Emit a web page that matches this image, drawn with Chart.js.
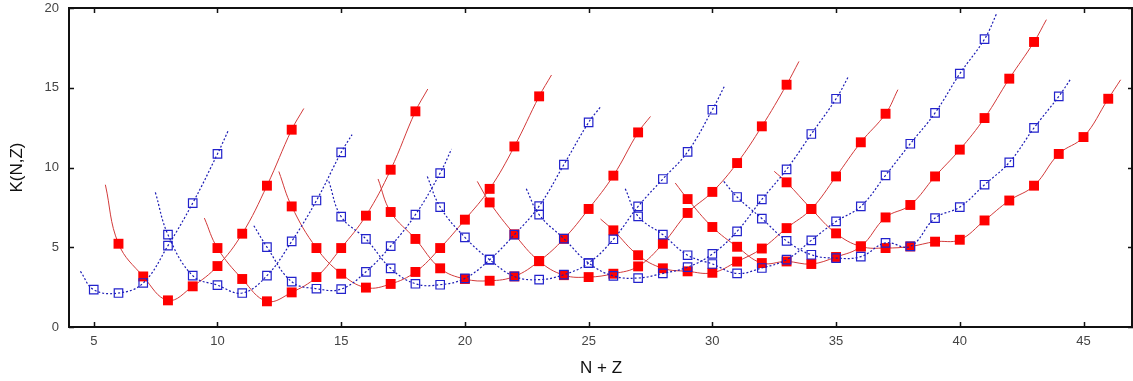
<!DOCTYPE html>
<html>
<head>
<meta charset="utf-8">
<script src="https://cdn.jsdelivr.net/npm/chart.js@4.4.1/dist/chart.umd.min.js"></script>
<style>
  html, body { margin: 0; padding: 0; background: #fff; }
  #wrap { width: 1133px; height: 381px; }
</style>
</head>
<body>
<div id="wrap"><canvas id="chart" width="1133" height="381"></canvas></div>
<script>
// ticks
const xTicks = [5, 10, 15, 20, 25, 30, 35, 40, 45];
const yTicks = [0, 5, 10, 15, 20];

// red series (filled squares, solid curves): first N+Z and K values
const redFirst = [6, 10, 13, 17, 21, 26, 29, 33];
const red1 = [5.22, 3.17, 1.67, 2.55, 3.82, 5.85, 8.86, 12.37];
const red2 = [4.95, 3.01, 1.61, 2.17, 3.13, 4.95, 6.98, 9.86, 13.52];
const red3 = [7.56, 4.95, 3.34, 2.47, 2.7, 3.45, 4.95, 6.73, 8.66, 11.32, 14.46];
const red4 = [7.21, 5.52, 3.68, 3.01, 2.9, 3.17, 4.13, 5.53, 7.4, 9.49, 12.2];
const red5 = [7.81, 5.81, 4.13, 3.25, 3.13, 3.34, 3.8, 5.22, 7.15, 8.47, 10.28, 12.58, 15.19];
const red6 = [6.06, 4.5, 3.68, 3.49, 3.4, 4.1, 4.92, 6.2, 7.4, 9.44, 11.58, 13.37];
const red7 = [8.02, 6.27, 5.03, 4.01, 4.11, 3.95, 4.39, 5.05, 6.87, 7.65, 9.44, 11.12, 13.1, 15.57, 17.87];
const red8 = [9.07, 7.4, 5.87, 5.05, 4.95, 5.05, 5.35, 5.47, 6.68, 7.93, 8.86, 10.85, 11.91, 14.31];
// where each red curve starts and ends: [x0, y0, x1, y1]
const redEnds = [
  [5.47, 8.92, 13.49, 13.7],
  [9.47, 6.83, 18.5, 14.92],
  [12.48, 9.75, 23.5, 15.8],
  [16.49, 9.28, 27.5, 13.2],
  [20.5, 9.13, 33.5, 16.65],
  [25.48, 6.77, 37.5, 14.88],
  [28.5, 9.03, 43.5, 19.27],
  [32.5, 9.76, 46.5, 15.5]
];

// blue series (open squares, dotted curves)
const blueFirst = [5, 8, 12, 15, 19, 23, 27, 31];
const blue1 = [2.34, 2.13, 2.76, 5.1, 7.77, 10.85];
const blue2 = [5.79, 3.22, 2.62, 2.13, 3.22, 5.37, 7.93, 10.95];
const blue3 = [5.01, 2.84, 2.4, 2.38, 3.46, 5.07, 7.04, 9.65];
const blue4 = [6.92, 5.52, 3.68, 2.71, 2.65, 3.05, 4.22, 5.79, 7.58, 10.18, 12.83];
const blue5 = [7.52, 5.62, 4.22, 3.17, 2.97, 3.28, 4.01, 5.5, 7.56, 9.28, 10.98, 13.62];
const blue6 = [7.04, 5.54, 4.01, 3.2, 3.07, 3.36, 3.75, 4.58, 6.0, 8.0, 9.88, 12.1, 14.31];
const blue7 = [6.94, 5.79, 4.5, 3.95, 3.36, 3.7, 4.22, 5.43, 6.62, 7.56, 9.51, 11.49, 13.42, 15.88, 18.05];
const blue8 = [8.15, 6.8, 5.4, 4.53, 4.32, 4.41, 5.27, 5.05, 6.83, 7.52, 8.92, 10.32, 12.48, 14.46];
const blueEnds = [
  [4.46, 3.49, 10.46, 12.4],
  [7.49, 8.44, 15.44, 12.06],
  [11.47, 6.35, 19.46, 11.16],
  [14.5, 9.13, 25.48, 13.8],
  [18.48, 9.44, 30.5, 15.13],
  [22.48, 8.67, 35.52, 15.76],
  [26.48, 8.67, 41.51, 19.72],
  [30.46, 9.13, 44.48, 15.55]
];

const reds = [red1, red2, red3, red4, red5, red6, red7, red8];
const blues = [blue1, blue2, blue3, blue4, blue5, blue6, blue7, blue8];

// armar los puntos de una curva: inicio, valores, final
const buildCurve = (first, vals, ends) => {
  const pts = [{ x: ends[0], y: ends[1] }];
  vals.forEach((v, i) => pts.push({ x: first + i, y: v }));
  pts.push({ x: ends[2], y: ends[3] });
  return pts;
};

const hideEnds = (ctx, r) => {
  const n = ctx.dataset.data.length;
  return (ctx.dataIndex === 0 || ctx.dataIndex === n - 1) ? 0 : r;
};

let datasets = [];
reds.forEach((vals, i) => {
  datasets.push({
    data: buildCurve(redFirst[i], vals, redEnds[i]),
    showLine: true,
    borderColor: '#d23a3a',
    borderWidth: 1,
    tension: 0.4,
    pointStyle: 'rect',
    pointRadius: ctx => hideEnds(ctx, 7),
    pointBackgroundColor: '#ff0000',
    pointBorderWidth: 0,
    order: 2
  });
});
blues.forEach((vals, i) => {
  datasets.push({
    data: buildCurve(blueFirst[i], vals, blueEnds[i]),
    showLine: true,
    borderColor: '#1c1cb4',
    borderWidth: 1.2,
    borderDash: [2, 2],
    tension: 0.4,
    pointStyle: 'rect',
    pointRadius: ctx => hideEnds(ctx, 6),
    pointBackgroundColor: 'rgba(255,255,255,0)',
    pointBorderColor: '#2222cc',
    pointBorderWidth: 1.2,
    order: 1
  });
});

// marco superior/derecho y marcas de ticks hacia adentro
const frameTicks = {
  id: 'frameTicks',
  afterDraw(chart) {
    const { ctx, chartArea: a, scales } = chart;
    ctx.save();
    ctx.strokeStyle = '#111';
    ctx.lineWidth = 2;
    ctx.beginPath();
    ctx.moveTo(a.left, a.top);
    ctx.lineTo(a.right, a.top);
    ctx.moveTo(a.right - 1, a.top);
    ctx.lineTo(a.right - 1, a.bottom);
    ctx.stroke();
    ctx.lineWidth = 1.5;
    ctx.beginPath();
    xTicks.forEach(t => {
      const px = Math.round(scales.x.getPixelForValue(t)) + 0.5;
      ctx.moveTo(px, a.bottom);
      ctx.lineTo(px, a.bottom - 5);
      ctx.moveTo(px, a.top);
      ctx.lineTo(px, a.top + 5);
    });
    yTicks.forEach(t => {
      const py = Math.round(scales.y.getPixelForValue(t)) + 0.5;
      ctx.moveTo(a.left, py);
      ctx.lineTo(a.left + 5, py);
      ctx.moveTo(a.right, py);
      ctx.lineTo(a.right - 5, py);
    });
    ctx.stroke();
    ctx.restore();
  }
};

const font = 'Liberation Sans, Arial, sans-serif';

new Chart(document.getElementById('chart'), {
  type: 'scatter',
  data: { datasets: datasets },
  options: {
    responsive: false,
    animation: false,
    layout: { padding: { top: 8, right: 0, left: 0, bottom: 0 } },
    plugins: { legend: { display: false }, tooltip: { enabled: false } },
    scales: {
      x: {
        type: 'linear',
        min: 4,
        max: 47,
        afterBuildTicks: s => { s.ticks = xTicks.map(v => ({ value: v })); },
        afterFit: s => { s.height = 54; s.paddingLeft = 0; s.paddingRight = 0; },
        grid: { display: false, drawTicks: false },
        border: { display: true, color: '#111', width: 2 },
        ticks: { color: '#444', padding: 7, font: { family: font, size: 13 }, maxRotation: 0 },
        title: { display: true, text: 'N + Z', color: '#111', padding: { top: 0, bottom: 2 }, font: { family: font, size: 17 } }
      },
      y: {
        type: 'linear',
        min: 0,
        max: 20,
        afterBuildTicks: s => { s.ticks = yTicks.map(v => ({ value: v })); },
        afterFit: s => { s.width = 69; s.paddingTop = 0; s.paddingBottom = 0; },
        grid: { display: false, drawTicks: false },
        border: { display: true, color: '#111', width: 2 },
        ticks: { color: '#444', padding: 10, font: { family: font, size: 13 } },
        title: { display: true, text: 'K(N,Z)', color: '#111', padding: { top: 7, bottom: 0 }, font: { family: font, size: 17 } }
      }
    }
  },
  plugins: [frameTicks]
});
</script>
</body>
</html>
